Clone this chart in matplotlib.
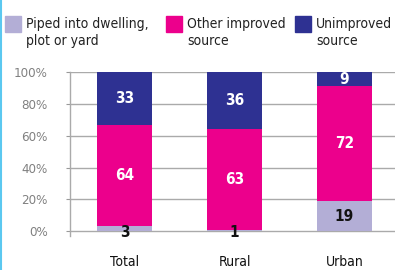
import matplotlib
matplotlib.use("Agg")
import matplotlib.pyplot as plt
from matplotlib.patches import Rectangle
from matplotlib import font_manager
import numpy as np

categories = ["Total", "Rural", "Urban"]
piped = [3, 1, 19]
other = [64, 63, 72]
unimproved = [33, 36, 9]
series_names = ["Piped into dwelling,\nplot or yard", "Other improved\nsource", "Unimproved\nsource"]
yticks = [0, 20, 40, 60, 80, 100]
ytick_labels = ["0%", "20%", "40%", "60%", "80%", "100%"]

colors = ["#b3aed6", "#ec008c", "#2e3192"]
label_colors = ["#111111", "white", "white"]

names = {f.name for f in font_manager.fontManager.ttflist}
fam = "Liberation Sans Narrow" if "Liberation Sans Narrow" in names else "DejaVu Sans"
plt.rcParams["font.family"] = [fam, "DejaVu Sans"]
plt.rcParams["font.stretch"] = "condensed"

W, H = 395, 270
fig = plt.figure(figsize=(W / 100, H / 100), dpi=100)
ax = fig.add_axes([70 / W, 1 - 236 / H, (W - 70) / W, (236 - 72) / H])

x = np.arange(len(categories))
bw = 0.5
data = [piped, other, unimproved]
bottom = np.zeros(len(categories))
for vals, c, lc in zip(data, colors, label_colors):
    vals = np.array(vals, dtype=float)
    ax.bar(x, vals, bw, bottom=bottom, color=c, zorder=3)
    for xi, b, v in zip(x, bottom, vals):
        if v < 5:
            y = b - 0.5
            col = "#111111"
        else:
            y = b + v / 2
            col = lc
        ax.text(xi, y, f"{int(v)}", ha="center", va="center", color=col,
                fontsize=11, fontweight="bold", zorder=4)
    bottom += vals

ax.set_xlim(-0.5, 2.46)
ax.set_ylim(-3, 100)
ax.set_yticks(yticks)
ax.set_yticklabels(ytick_labels, color="#808080", fontsize=9.5)
ax.set_xticks(x)
ax.set_xticklabels(categories, fontsize=10, color="#111111")
ax.tick_params(axis="x", length=0, pad=14)
ax.tick_params(axis="y", length=3, color="#999999", pad=13)
for yv in yticks:
    ax.axhline(yv, color="#aaaaaa", lw=1, zorder=1)
for s in ["top", "right", "bottom"]:
    ax.spines[s].set_visible(False)
ax.spines["left"].set_color("#aaaaaa")
ax.spines["left"].set_linewidth(1)

# legend
leg_x = [5, 166, 295]
for lx, c, n in zip(leg_x, colors, series_names):
    fig.patches.append(Rectangle((lx / W, 1 - 32 / H), 16 / W, 16 / H,
                                 transform=fig.transFigure, color=c))
    fig.text((lx + 21) / W, 1 - 17 / H, n, ha="left", va="top", fontsize=10,
             color="#222222", linespacing=1.25)

# left border line
fig.add_artist(plt.Line2D([1 / W, 1 / W], [0, 1], transform=fig.transFigure,
                          color="#5bc8f0", lw=1.5))

fig.savefig("out.png", dpi=100)
